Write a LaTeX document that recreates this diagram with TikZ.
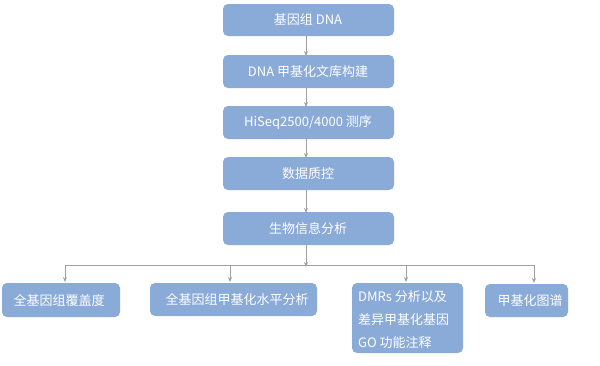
\documentclass[tikz,border=0pt]{standalone}
\usepackage{fontspec}
\setmainfont{Noto Sans CJK SC}
\usetikzlibrary{arrows.meta}
\definecolor{boxfill}{RGB}{138,170,216}
\definecolor{linegray}{RGB}{160,160,160}
\tikzset{
  box/.style={fill=boxfill, draw=none, rounded corners=5pt},
  lbl/.style={text=white, font=\fontsize{13pt}{15pt}\selectfont, inner sep=0pt},
  conn/.style={draw=linegray, line width=0.8pt, -{Stealth[length=5pt,width=4pt]}},
  plain/.style={draw=linegray, line width=0.8pt}
}
\begin{document}
\begin{tikzpicture}[x=1pt,y=-1pt]
\useasboundingbox (0,0) rectangle (600,365);
% main chain
\fill[box] (223,4) rectangle (394,36);
\node[lbl] (t1) at (308,20) {基因组 DNA};
\coordinate (b1) at (306,36);
\fill[box] (223,55) rectangle (394,88);
\node[lbl] (t2) at (308,71.5) {DNA 甲基化文库构建};
\coordinate (a2) at (306,55); \coordinate (b2) at (306,88);
\fill[box] (223,106) rectangle (394,139);
\node[lbl] (t3) at (308,122.5) {HiSeq2500/4000 测序};
\coordinate (a3) at (306,106); \coordinate (b3) at (306,139);
\fill[box] (223,157) rectangle (394,190);
\node[lbl] (t4) at (308,173.5) {数据质控};
\coordinate (a4) at (306,157); \coordinate (b4) at (306,190);
\fill[box] (223,212) rectangle (394,245);
\node[lbl] (t5) at (308,228.5) {生物信息分析};
\coordinate (a5) at (306,212); \coordinate (b5) at (306,245);

\draw[conn] (b1) -- ([yshift=-1pt]a2);
\draw[conn] (b2) -- ([yshift=-1pt]a3);
\draw[conn] (b3) -- ([yshift=-1pt]a4);
\draw[conn] (b4) -- ([yshift=-1pt]a5);

% branch
\coordinate (h) at (306,265);
\coordinate (hl) at (65,265);
\coordinate (hr) at (534,265);
\draw[conn] (b5) -- ([yshift=-2pt]h);
\draw[plain] (hl) -- (hr);

% bottom boxes
\fill[box] (2,283) rectangle (120,317);
\node[lbl] (bA) at (59,300) {全基因组覆盖度};
\fill[box] (150,283) rectangle (317,316);
\node[lbl] (bB) at (237,299.5) {全基因组甲基化水平分析};
\fill[box] (352,283) rectangle (463,353);
\node[lbl, align=left, anchor=west, font=\fontsize{13pt}{23pt}\selectfont] (bC) at (358,320) {DMRs 分析以及\\差异甲基化基因\\GO 功能注释};
\fill[box] (485,284) rectangle (568,317);
\node[lbl] (bD) at (530,300.5) {甲基化图谱};

\coordinate (pA) at (65,265); \coordinate (qA) at (65,282);
\coordinate (pB) at (230,265); \coordinate (qB) at (230,282);
\coordinate (pC) at (406,265); \coordinate (qC) at (406,282);
\coordinate (pD) at (534,265); \coordinate (qD) at (534,283);
\draw[conn] (pA) -- (qA);
\draw[conn] (pB) -- (qB);
\draw[conn] (pC) -- (qC);
\draw[conn] (pD) -- (qD);
\end{tikzpicture}
\end{document}
